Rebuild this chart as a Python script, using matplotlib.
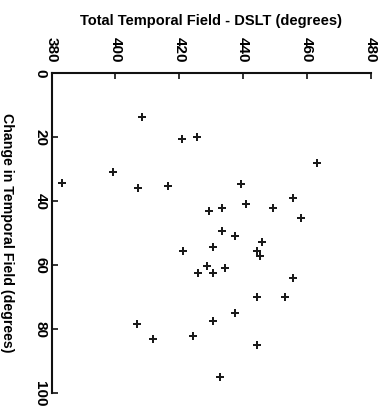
import matplotlib
matplotlib.use('Agg')
import matplotlib.pyplot as plt

# Scanned scatter: total temporal field vs change in temporal field
total_field = [408.4, 420.9, 425.5, 399.3, 383.3, 407.2, 416.4, 421.2, 425.7, 406.7,
               411.8, 424.3, 463.0, 439.2, 455.5, 441.0, 449.3, 429.3, 433.5, 458.0,
               433.5, 437.4, 446.0, 430.4, 444.2, 445.4, 428.6, 430.4, 434.3, 455.5,
               444.3, 453.1, 437.5, 430.5, 444.4, 432.6]
change_field = [13.8, 20.7, 19.9, 31.0, 34.4, 36.0, 35.3, 55.5, 62.3, 78.2,
                83.0, 82.2, 28.2, 34.7, 39.0, 40.8, 42.2, 43.0, 42.1, 45.2,
                49.2, 51.0, 52.8, 54.2, 55.4, 57.2, 60.3, 62.3, 61.0, 64.1,
                69.8, 69.8, 74.8, 77.5, 84.8, 94.8]

x_ticks = [380, 400, 420, 440, 460, 480]
y_ticks = [0, 20, 40, 60, 80, 100]

plt.rcParams['font.family'] = ['Liberation Sans', 'DejaVu Sans']

fig = plt.figure(figsize=(3.88, 4.11), dpi=100)
ax = fig.add_axes([0.133, 0.043, 0.823, 0.779])

ax.scatter(total_field, change_field, marker='P', s=32, color='#1a1a1a', linewidths=0)

ax.set_xlim(380, 480)
ax.set_ylim(100, 0)
ax.xaxis.tick_top()
ax.xaxis.set_label_position('top')
ax.set_xticks(x_ticks)
ax.set_yticks(y_ticks)
ax.set_xticklabels([str(t) for t in x_ticks], rotation=-90, fontsize=11, fontweight='bold')
ax.set_yticklabels([str(t) for t in y_ticks], rotation=-90, fontsize=11, fontweight='bold',
                   va='center')
ax.tick_params(direction='in', length=4, width=1.2, color='#111111', pad=3)
ax.tick_params(axis='x', pad=8)

for side in ['right', 'bottom']:
    ax.spines[side].set_visible(False)
for side in ['left', 'top']:
    ax.spines[side].set_linewidth(1.5)
    ax.spines[side].set_color('#111111')

ax.set_xlabel('Total Temporal Field - DSLT (degrees)', fontsize=10.5, fontweight='bold', labelpad=8)
ax.set_ylabel('Change in Temporal Field (degrees)', fontsize=10.2, fontweight='bold',
              rotation=-90, labelpad=24, va='bottom')

fig.savefig('out.png', dpi=100)
